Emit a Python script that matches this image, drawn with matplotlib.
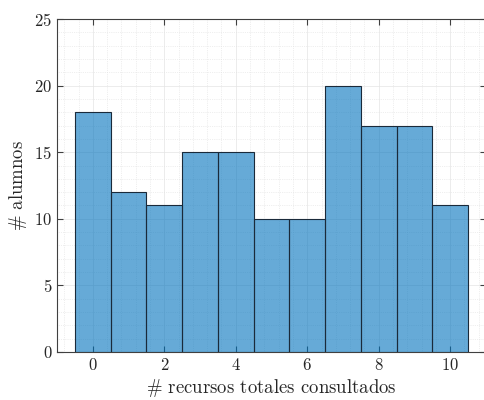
import matplotlib
matplotlib.use("Agg")
import matplotlib.pyplot as plt
from matplotlib.ticker import MultipleLocator

plt.rcParams['font.family'] = 'serif'
plt.rcParams['font.serif'] = ['cmr10']
plt.rcParams['mathtext.fontset'] = 'cm'
plt.rcParams['axes.formatter.use_mathtext'] = True

recursos = [0, 1, 2, 3, 4, 5, 6, 7, 8, 9, 10]
alumnos = [18, 12, 11, 15, 15, 10, 10, 20, 17, 17, 11]

fig = plt.figure(figsize=(4.84, 4.0), dpi=100)
ax = fig.add_axes([0.118, 0.12, 0.886, 0.8325])

ax.bar(recursos, alumnos, width=1.0, color='#0072BD', alpha=0.6,
       edgecolor='none', zorder=3)
ax.bar(recursos, alumnos, width=1.0, facecolor='none',
       edgecolor='#1a2a3a', linewidth=0.8, zorder=4)

ax.set_xlim(-1, 11)
ax.set_ylim(0, 25)
ax.xaxis.set_major_locator(MultipleLocator(2))
ax.yaxis.set_major_locator(MultipleLocator(5))
ax.xaxis.set_minor_locator(MultipleLocator(0.4))
ax.yaxis.set_minor_locator(MultipleLocator(1))
ax.grid(which='major', color='#e4e4e4', linewidth=0.5, zorder=0)
ax.grid(which='minor', color='#e0e0e0', linestyle=':', linewidth=0.5, zorder=0)
ax.tick_params(which='major', direction='in', top=True, right=True,
               length=4, color='#404040', labelsize=12, labelcolor='#262626')
ax.tick_params(which='minor', length=0, top=True, right=True)
for s in ax.spines.values():
    s.set_color('#404040')
    s.set_linewidth(0.8)

ax.set_xlabel(r'$\#$ recursos totales consultados', fontsize=13.5, color='#262626', labelpad=3)
ax.set_ylabel(r'$\#$ alumnos', fontsize=13.5, color='#262626')

fig.savefig('out.png', dpi=100)
